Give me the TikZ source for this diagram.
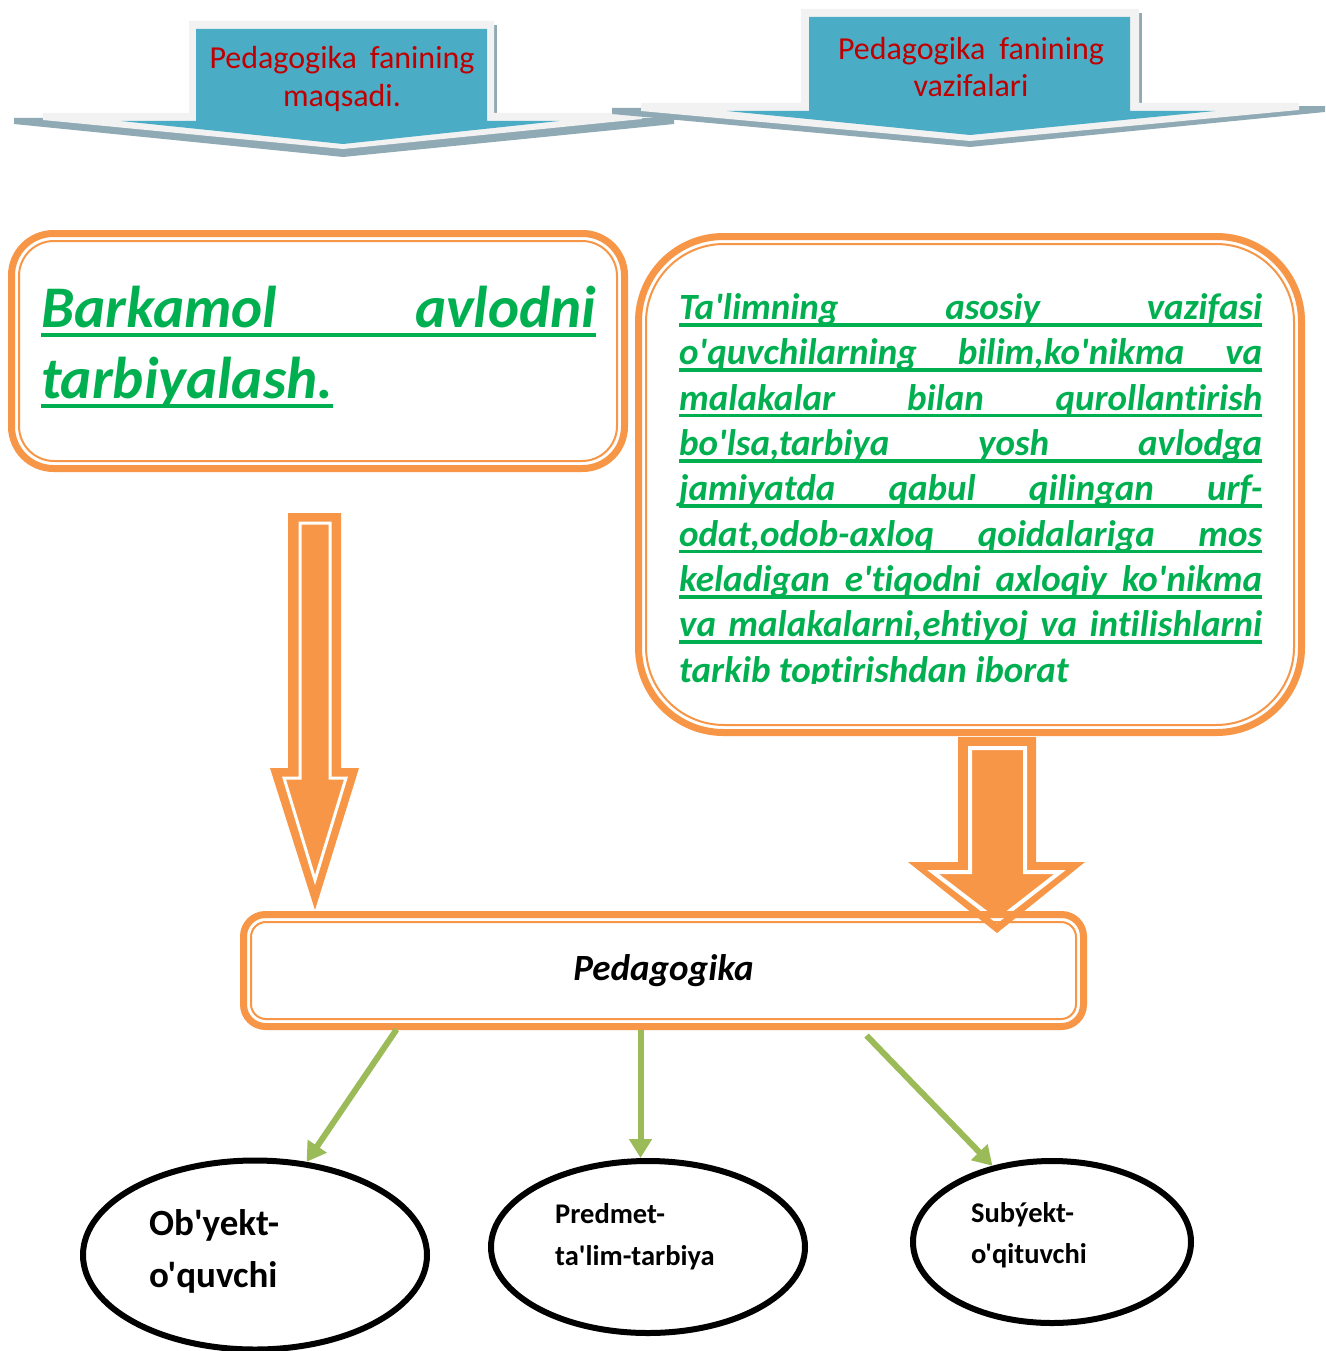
\documentclass[tikz,border=0pt]{standalone}
\usepackage{fontspec}
\setmainfont{Carlito}[Ligatures={TeXOff,NoCommon}]
\usetikzlibrary{arrows.meta,shapes.geometric}
\definecolor{teal1}{HTML}{4BACC6}
\definecolor{bgray}{HTML}{F2F2F2}
\definecolor{shad}{HTML}{8FAAB4}
\definecolor{redt}{HTML}{C00000}
\definecolor{orng}{HTML}{F79646}
\definecolor{grn}{HTML}{00B050}
\definecolor{lgrn}{HTML}{9BBB59}
\newcommand{\ulbox}[3]{\setbox0=\hbox{#3}\rlap{\rule[-#1]{\wd0}{#2}}\box0}
\begin{document}
\begin{tikzpicture}[x=1pt,y=-1pt,
  thickb/.style={draw=orng, line width=7pt, inner sep=0pt, outer sep=0pt},
  thinb/.style={draw=orng, line width=2pt},
  ban/.style={text=redt, font=\fontsize{32}{39}\selectfont, inner sep=0pt, anchor=base},
  ltxt/.style={text=grn, font=\fontsize{59}{71}\selectfont\bfseries\itshape, inner sep=0pt, anchor=base west},
  rtxt/.style={text=grn, font=\fontsize{37}{45}\selectfont\bfseries\itshape, inner sep=0pt, anchor=base west},
  garrow/.style={draw=lgrn, line width=6pt, -{Triangle[length=19pt,width=22pt]}},
  ell/.style={draw=black, line width=6pt, ellipse, inner sep=0pt},
  etxtL/.style={font=\fontsize{37}{44}\selectfont\bfseries, inner sep=0pt, anchor=base west},
  etxtS/.style={font=\fontsize{28.5}{34}\selectfont\bfseries, inner sep=0pt, anchor=base west}
]
\useasboundingbox[fill=white] (0,0) rectangle (1325,1351);

% ---------- left banner ----------
\fill[shad] (192,25) rectangle (497,118);
\fill[shad] (14,118) -- (674,118) -- (674,124) -- (343,157) -- (14,124) -- cycle;
\fill[bgray] (189,21) -- (494,21) -- (494,113) -- (642,113) -- (642,119) -- (343,149) -- (43,120) -- (43,113) -- (189,113) -- cycle;
\fill[teal1] (196,29) -- (487,29) -- (487,121) -- (559,121) -- (343,144) -- (121,121) -- (196,121) -- cycle;
\node[ban] (b1a) at (342,69) {\makebox[265pt][s]{Pedagogika fanining}};
\node[ban] (b1b) at (342,107) {maqsadi.};

% ---------- right banner ----------
\fill[shad] (804,13) rectangle (1142,108);
\fill[shad] (612,108) -- (1325,106) -- (1325,112) -- (970,147) -- (612,114) -- cycle;
\fill[bgray] (801,9) -- (1139,9) -- (1139,103) -- (1299,103) -- (1299,110) -- (970,141) -- (641,111) -- (641,103) -- (801,103) -- cycle;
\fill[teal1] (809,17) -- (1130,17) -- (1130,111) -- (1215,111) -- (970,135) -- (727,111) -- (809,111) -- cycle;
\node[ban] (b2a) at (971,60) {\makebox[266pt][s]{Pedagogika fanining}};
\node[ban] (b2b) at (971,97) {vazifalari};

% ---------- block arrows ----------
\fill[orng] (288,513) -- (341,513) -- (341,768) -- (359,768) -- (315,910) -- (270,768) -- (288,768) -- cycle;
\draw[white, line width=3pt] (300,523) -- (330,523) -- (330,778) -- (346,778) -- (315,880) -- (284,778) -- (300,778) -- cycle;
\fill[orng] (958,737) -- (1036,737) -- (1036,862) -- (1085,862) -- (997,933) -- (908,862) -- (958,862) -- cycle;
\draw[white, line width=4pt] (970,748) -- (1025,748) -- (1025,872) -- (1060,872) -- (997,921) -- (933,872) -- (970,872) -- cycle;

% ---------- left box ----------
\node[thickb, rounded corners=42pt, minimum width=613pt, minimum height=235pt] (lbox) at (318,351) {};
\draw[thinb, rounded corners=35pt] ([shift={(7.5,7.5)}]lbox.north west) rectangle ([shift={(-7.5,-7.5)}]lbox.south east);
\node[ltxt] (l1) at (41,327) {\ulbox{10.3pt}{4.6pt}{\makebox[555pt][s]{Barkamol avlodni}}};
\node[ltxt] (l2) at (41,398) {\ulbox{10.3pt}{4.6pt}{tarbiyalash.}};

% ---------- right box ----------
\node[thickb, rounded corners=85pt, minimum width=663pt, minimum height=496pt] (rbox) at (970,484.5) {};
\draw[thinb, rounded corners=78pt] ([shift={(7.5,7.5)}]rbox.north west) rectangle ([shift={(-7.5,-7.5)}]rbox.south east);
\begin{scope}
\clip (640,240) rectangle (1300,683);
\node[rtxt] (r1) at (679,319.3) {\ulbox{7.2pt}{3.6pt}{\makebox[583pt][s]{Ta'limning asosiy vazifasi}}};
\node[rtxt] (r2) at (679,364.7) {\ulbox{7.2pt}{3.6pt}{\makebox[583pt][s]{o'quvchilarning bilim,ko'nikma va}}};
\node[rtxt] (r3) at (679,410.0) {\ulbox{7.2pt}{3.6pt}{\makebox[583pt][s]{malakalar bilan qurollantirish}}};
\node[rtxt] (r4) at (679,455.4) {\ulbox{7.2pt}{3.6pt}{\makebox[583pt][s]{bo'lsa,tarbiya yosh avlodga}}};
\node[rtxt] (r5) at (679,500.7) {\ulbox{7.2pt}{3.6pt}{\makebox[583pt][s]{jamiyatda qabul qilingan urf-}}};
\node[rtxt] (r6) at (679,546.0) {\ulbox{7.2pt}{3.6pt}{\makebox[583pt][s]{odat,odob-axloq qoidalariga mos}}};
\node[rtxt] (r7) at (679,591.4) {\ulbox{7.2pt}{3.6pt}{\makebox[583pt][s]{keladigan e'tiqodni axloqiy ko'nikma}}};
\node[rtxt] (r8) at (679,636.8) {\ulbox{7.2pt}{3.6pt}{\makebox[583pt][s]{va malakalarni,ehtiyoj va intilishlarni}}};
\node[rtxt] (r9) at (679,682.1) {\ulbox{7.2pt}{3.6pt}{tarkib toptirishdan iborat}};
\end{scope}

% ---------- Pedagogika box ----------
\node[thickb, rounded corners=22pt, minimum width=840pt, minimum height=112pt,
      font=\fontsize{37}{44}\selectfont\bfseries\itshape] (ped) at (663.5,970.5) {Pedagogika};
\draw[thinb, rounded corners=15pt] ([shift={(7.5,7.5)}]ped.north west) rectangle ([shift={(-7.5,-7.5)}]ped.south east);

% ---------- ellipses ----------
\node[ell, minimum width=344pt, minimum height=189pt] (e1) at (255,1255) {};
\node[ell, minimum width=314pt, minimum height=172pt] (e2) at (648,1247) {};
\node[ell, minimum width=278pt, minimum height=162pt] (e3) at (1052,1242) {};
\node[etxtL] (e1a) at (149,1235) {Ob'yekt-};
\node[etxtL] (e1b) at (149,1287) {o'quvchi};
\node[etxtS] (e2a) at (555,1223) {Predmet-};
\node[etxtS] (e2b) at (555,1265) {ta'lim-tarbiya};
\node[etxtS] (e3a) at (971,1222) {Subýekt-};
\node[etxtS] (e3b) at (971,1263) {o'qituvchi};

% ---------- connectors ----------
\coordinate (c1) at ([shift={(-267,3)}]ped.south);
\coordinate (c2) at ([shift={(-23,3)}]ped.south);
\coordinate (c3) at ([shift={(203,9)}]ped.south);
\draw[garrow] (c1) -- (e1.61);
\draw[garrow] (c2) -- (c2 |- e2.north);
\draw[garrow] (c3) -- (e3.128);
\end{tikzpicture}
\end{document}
